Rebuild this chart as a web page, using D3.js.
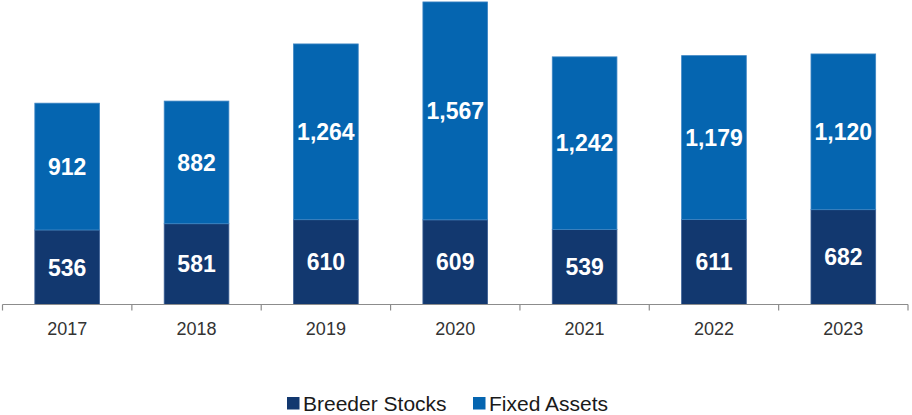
<!DOCTYPE html>
<html><head><meta charset="utf-8">
<script src="https://cdn.jsdelivr.net/npm/d3@7"></script>
<style>
html,body{margin:0;padding:0;background:#fff;}
svg{display:block;font-family:"Liberation Sans",Arial,sans-serif;}
</style></head>
<body><svg id="c" width="912" height="415"></svg>
<script>
const years = ["2017","2018","2019","2020","2021","2022","2023"];
const breederStocks = [536,581,610,609,539,611,682];
const fixedAssets = [912,882,1264,1567,1242,1179,1120];
const seriesNames = ["Breeder Stocks","Fixed Assets"];
const seriesColors = ["#12386f","#0565b0"];

const svg = d3.select("#c");
const x = d3.scaleBand().domain(years).range([2.5, 908]).paddingInner(0.5).paddingOuter(0.25);
const y = d3.scaleLinear().domain([0, 2190]).range([304.5, 0]);

const rows = years.map((yr,i)=>({year:yr, "Breeder Stocks":breederStocks[i], "Fixed Assets":fixedAssets[i]}));
const stack = d3.stack().keys(seriesNames)(rows);
const fmt = d3.format(",");

const g = svg.append("g");
stack.forEach((s,si)=>{
  g.selectAll(null).data(s).enter().append("rect")
    .attr("x", d=>x(d.data.year))
    .attr("width", x.bandwidth())
    .attr("y", d=>y(d[1]))
    .attr("height", d=>y(d[0])-y(d[1]))
    .attr("fill", seriesColors[si])
    .attr("stroke", si===0 ? "#3c5f95" : "#3f86c4")
    .attr("stroke-width", 0.8);
  g.selectAll(null).data(s).enter().append("text")
    .attr("x", d=>x(d.data.year)+x.bandwidth()/2)
    .attr("y", d=>(y(d[0])+y(d[1]))/2)
    .attr("dy","0.36em")
    .attr("text-anchor","middle")
    .attr("fill","#fff")
    .attr("font-weight","bold")
    .attr("font-size","23px")
    .text(d=>fmt(d[1]-d[0]));
});

// axis
const ax = svg.append("g").attr("transform","translate(0,304.5)");
ax.append("line").attr("x1",2.5).attr("x2",908).attr("stroke","#8c8c8c").attr("stroke-width",1.2);
const step = x.step();
d3.range(years.length+1).forEach(i=>{
  const xe = 2.5 + i*step;
  ax.append("line").attr("x1",xe).attr("x2",xe).attr("y1",0).attr("y2",6).attr("stroke","#8c8c8c").attr("stroke-width",1.2);
});
ax.selectAll(null).data(years).enter().append("text")
  .attr("x", d=>x(d)+x.bandwidth()/2)
  .attr("y", 24)
  .attr("dy","0.36em")
  .attr("text-anchor","middle")
  .attr("fill","#333")
  .attr("font-size","18px")
  .text(d=>d);

// legend
const leg = svg.append("g");
const legX = [287, 473];
seriesNames.forEach((n,i)=>{
  leg.append("rect").attr("x",legX[i]).attr("y",397).attr("width",12.5).attr("height",12.5).attr("fill",seriesColors[i]);
  leg.append("text").attr("x",legX[i]+16).attr("y",403).attr("dy","0.36em")
    .attr("font-size","21px").attr("fill","#1a1a1a").text(n);
});
</script></body></html>
